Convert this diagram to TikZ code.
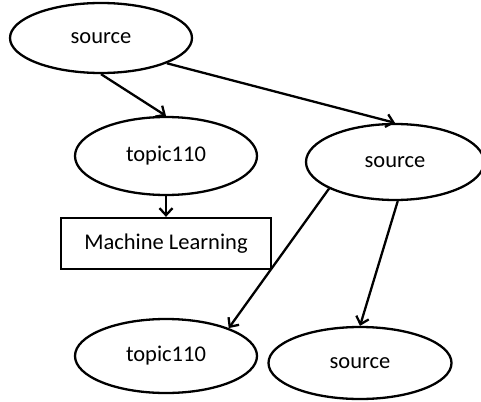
\documentclass[tikz,border=0pt]{standalone}
\usepackage{fontspec}
\setmainfont{Carlito}
\usetikzlibrary{shapes.geometric,arrows.meta}
\begin{document}
\begin{tikzpicture}[x=1pt,y=-1pt,
  every node/.style={font=\fontsize{22.5}{27}\selectfont, line width=2.3pt, inner sep=0pt},
  ell/.style={draw, ellipse},
  box/.style={draw, rectangle},
  conn/.style={line width=2.3pt, -{Straight Barb[length=7pt,width=13pt,line width=2.3pt]}}]
\useasboundingbox (0,0) rectangle (481,401);
\node[ell, minimum width=182pt, minimum height=70pt] (s1) at (101,38) {source};
\node[ell, minimum width=182pt, minimum height=78pt] (t1) at (166,156) {topic110};
\node[ell, minimum width=178pt, minimum height=76pt] (s2) at (395,162) {source};
\node[box, minimum width=210pt, minimum height=51pt] (ml) at (166,243.5) {Machine Learning};
\node[ell, minimum width=182pt, minimum height=74pt] (t2) at (166,356) {topic110};
\node[ell, minimum width=183pt, minimum height=72pt] (s3) at (360,363) {source};
\draw[conn] (s1.south) -- (t1.north);
\draw[conn] (s1.-21) -- (s2.north);
\draw[conn] (t1.south) -- (ml.north);
\draw[conn] (s2.-158) -- (t2.24);
\draw[conn] (s2.-86) -- (s3.north);
\end{tikzpicture}
\end{document}
